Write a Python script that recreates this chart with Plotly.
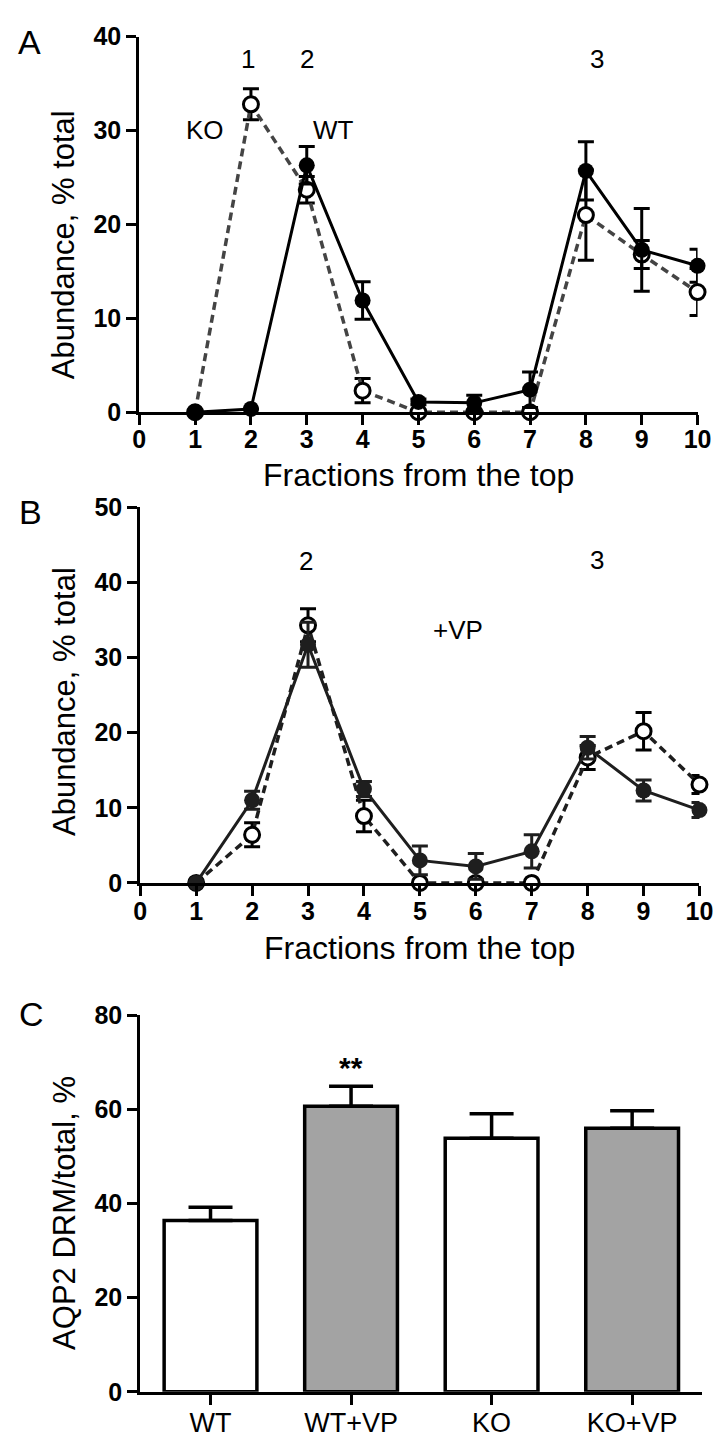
import plotly.graph_objects as go

W, H = 722, 1439

# ---------------- data ----------------
fractions = [1, 2, 3, 4, 5, 6, 7, 8, 9, 10]

# Panel A (no VP)
wt_a = [0, 0.35, 26.3, 11.9, 1.1, 1.0, 2.4, 25.7, 17.3, 15.6]
wt_a_err = [0, 0, 2.0, 2.0, 0.3, 0.8, 1.9, 3.1, 4.4, 1.75]
ko_a = [0, 32.8, 23.7, 2.3, 0, 0, 0, 21.0, 16.8, 12.8]
ko_a_err = [0, 1.65, 1.4, 1.3, 0, 0, 0, 4.8, 1.5, 2.5]

# Panel B (+VP)
wt_b = [0, 11.0, 31.7, 12.5, 3.0, 2.2, 4.2, 18.0, 12.3, 9.7]
wt_b_err = [0, 1.2, 3.0, 1.0, 1.9, 1.7, 2.2, 1.5, 1.4, 1.0]
ko_b = [0, 6.4, 34.3, 8.9, 0, 0, 0, 16.7, 20.2, 13.1]
ko_b_err = [0, 1.6, 2.2, 2.1, 0, 0, 0, 1.6, 2.5, 1.2]

# Panel C
groups = ["WT", "WT+VP", "KO", "KO+VP"]
drm_mean = [36.4, 60.7, 53.9, 56.0]
drm_sem = [2.8, 4.2, 5.2, 3.7]
bar_colors = ["white", "#a3a3a3", "white", "#a3a3a3"]

x_ticks_ab = [0, 1, 2, 3, 4, 5, 6, 7, 8, 9, 10]
y_ticks_a = [0, 10, 20, 30, 40]
y_ticks_b = [0, 10, 20, 30, 40, 50]
y_ticks_c = [0, 20, 40, 60, 80]


def px_x(x):
    return x / W


def px_y(y):
    return 1 - y / H


TXT = "Liberation Sans, Arial, sans-serif"
TICKFONT = dict(family=TXT, size=25, color="black", weight="bold")

fig = go.Figure()


def add_lines(xa, ya, wt, wt_err, ko, ko_err, col_solid, col_dash):
    fig.add_trace(go.Scatter(
        x=fractions, y=ko, mode="lines+markers", xaxis=xa, yaxis=ya,
        line=dict(color=col_dash, width=3.5, dash="8px,5px"),
        marker=dict(symbol="circle", size=15, color="white", line=dict(color="black", width=3)),
        error_y=dict(type="data", array=ko_err, color="black", thickness=3, width=8),
        cliponaxis=False, showlegend=False))
    fig.add_trace(go.Scatter(
        x=fractions, y=wt, mode="lines+markers", xaxis=xa, yaxis=ya,
        line=dict(color=col_solid, width=3),
        marker=dict(symbol="circle", size=16, color=col_solid),
        error_y=dict(type="data", array=wt_err, color=col_solid, thickness=3, width=8),
        cliponaxis=False, showlegend=False))


add_lines("x", "y", wt_a, wt_a_err, ko_a, ko_a_err, "black", "#444444")
add_lines("x2", "y2", wt_b, wt_b_err, ko_b, ko_b_err, "#1e1e1e", "#1e1e1e")

fig.add_trace(go.Bar(
    x=[0, 1, 2, 3], y=drm_mean, xaxis="x3", yaxis="y3", width=0.66,
    marker=dict(color=bar_colors, line=dict(color="black", width=3.5)),
    error_y=dict(type="data", symmetric=False, array=drm_sem, arrayminus=[0, 0, 0, 0],
                 color="black", thickness=3.5, width=22),
    cliponaxis=False, showlegend=False))

axis_common = dict(showline=True, linecolor="black", linewidth=3, ticks="outside",
                   ticklen=10, tickwidth=3, tickcolor="black", showgrid=False,
                   zeroline=False, tickfont=TICKFONT, fixedrange=True)

layout = dict(
    width=W, height=H, margin=dict(l=0, r=0, t=0, b=0),
    paper_bgcolor="white", plot_bgcolor="white",
    xaxis=dict(domain=[px_x(128), px_x(703)], range=[0, 10], tickvals=x_ticks_ab,
               anchor="y", ticklabelstandoff=-7, **axis_common),
    yaxis=dict(domain=[px_y(398), px_y(15)], range=[0, 40], tickvals=y_ticks_a,
               anchor="x", **axis_common),
    xaxis2=dict(domain=[px_x(129), px_x(705)], range=[0, 10], tickvals=x_ticks_ab,
                anchor="y2", ticklabelstandoff=-6, **axis_common),
    yaxis2=dict(domain=[px_y(878), px_y(495)], range=[0, 50], tickvals=y_ticks_b,
                anchor="x2", **axis_common),
    xaxis3=dict(domain=[px_x(129), px_x(708)], range=[-0.5, 3.5], tickvals=[0, 1, 2, 3],
                ticktext=groups, anchor="y3", ticklabelstandoff=-5,
                **{**axis_common, "tickfont": dict(family=TXT, size=27, color="black")}),
    yaxis3=dict(domain=[px_y(1397), px_y(1013)], range=[0, 80], tickvals=y_ticks_c,
                anchor="x3", **axis_common),
)
fig.update_layout(**layout)

ann = []


def txt(x, y, s, size=26, xref="paper", yref="paper", angle=0, color="black", bold=False):
    ann.append(dict(x=x, y=y, xref=xref, yref=yref, text=s, showarrow=False,
                    textangle=angle, xanchor="center", yanchor="middle",
                    font=dict(family=TXT, size=size, color=color,
                              weight="bold" if bold else "normal")))


# panel letters
txt(px_x(15), px_y(20), "A", size=34)
txt(px_x(16), px_y(500), "B", size=34)
txt(px_x(17), px_y(1012), "C", size=34)

# axis titles
txt(px_x(50), px_y(227), "Abundance, % total", size=31, angle=-90)
txt(px_x(416), px_y(462), "Fractions from the top", size=32)
txt(px_x(51), px_y(693), "Abundance, % total", size=31, angle=-90)
txt(px_x(417), px_y(944), "Fractions from the top", size=32)
txt(px_x(51), px_y(1215), "AQP2 DRM/total, %", size=31, angle=-90)

# panel A labels
txt(1.95, 37.6, "1", xref="x", yref="y")
txt(3.0, 37.6, "2", xref="x", yref="y")
txt(8.2, 37.6, "3", xref="x", yref="y")
txt(1.17, 30.1, "KO", xref="x", yref="y")
txt(3.48, 30.1, "WT", xref="x", yref="y")

# panel B labels
txt(2.96, 42.8, "2", xref="x2", yref="y2")
txt(8.17, 43.0, "3", xref="x2", yref="y2")
txt(5.69, 33.7, "+VP", xref="x2", yref="y2")

# panel C significance
txt(1, 68.8, "**", xref="x3", yref="y3", size=30, bold=True)

fig.update_layout(annotations=ann)

fig.write_html("out.html")
